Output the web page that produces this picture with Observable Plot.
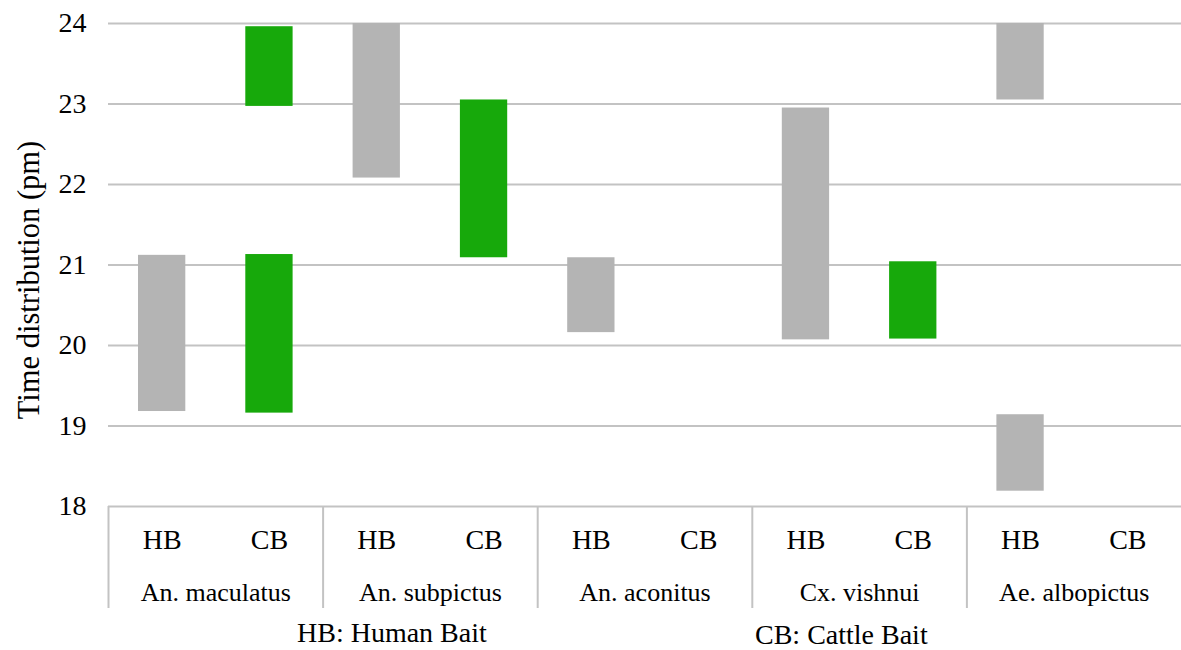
<!DOCTYPE html>
<html><head><meta charset="utf-8">
<script src="https://cdn.jsdelivr.net/npm/d3@7"></script>
<script src="https://cdn.jsdelivr.net/npm/@observablehq/plot@0.6"></script>
<style>
body{margin:0;background:#fff;}
#wrap{position:relative;width:1181px;height:650px;font-family:'Liberation Serif','Times New Roman',Times,'DejaVu Serif',serif;}
#wrap svg, #wrap svg text{font-family:'Liberation Serif','Times New Roman',Times,'DejaVu Serif',serif !important;}
.cap{position:absolute;font-size:28px;line-height:28px;color:#000;white-space:nowrap;}
</style></head><body><div id="wrap"></div>
<script>
const species = ["An. maculatus","An. subpictus","An. aconitus","Cx. vishnui","Ae. albopictus"];
const baits = ["HB","CB"];
const baitNames = ["HB: Human Bait","CB: Cattle Bait"];
const yTicks = [18,19,20,21,22,23,24];
const yLabel = "Time distribution (pm)";
// time intervals (pm), one entry per bar
const barSpecies = ["An. maculatus","An. maculatus","An. maculatus","An. subpictus","An. subpictus","An. aconitus","Cx. vishnui","Cx. vishnui","Ae. albopictus","Ae. albopictus"];
const barBait    = ["HB","CB","CB","HB","CB","HB","HB","CB","HB","HB"];
const barStart   = [19.18,19.16,22.97,22.08,21.09,20.16,20.07,20.08,23.05,18.19];
const barEnd     = [21.12,21.13,23.96,24.00,23.05,21.09,22.95,21.04,24.00,19.14];

const nb = baits.length;
const idx = (s, b) => species.indexOf(s) * nb + baits.indexOf(b);
const bars = barSpecies.map((s, i) => ({s, b: barBait[i], i: idx(s, barBait[i]), y1: barStart[i], y2: barEnd[i]}));
const cells = species.flatMap((s) => baits.map((b) => ({s, b, i: idx(s, b)})));
const groups = species.map((s, k) => ({s, start: k * nb, mid: k * nb + nb / 2}));

const gridColor = "#c3c3c3";
const plot = Plot.plot({
  width: 1181,
  height: 615,
  marginLeft: 108,
  marginRight: 0,
  marginTop: 23,
  marginBottom: 109,
  style: {background: "#fff", color: "#000", overflow: "visible"},
  x: {domain: [0, species.length * nb], axis: null},
  y: {domain: [18, 24], axis: null},
  color: {domain: baits, range: ["#b4b4b4", "#17a90b"]},
  marks: [
    Plot.ruleY(yTicks, {stroke: gridColor, strokeWidth: 2}),
    Plot.axisX({ticks: groups.map(g => g.start), tickSize: 102, tickFormat: () => "", label: null, stroke: gridColor, strokeWidth: 2, strokeOpacity: 1}),
    Plot.rectY(bars, {x1: d => d.i, x2: d => d.i + 1, y1: "y1", y2: "y2", fill: "b", insetLeft: 30, insetRight: 30}),
    Plot.axisY({ticks: yTicks, tickFormat: d => String(d), tickSize: 0, tickPadding: 22, fontSize: 28, label: null}),
    Plot.text(cells, {x: d => d.i + 0.5, text: "b", frameAnchor: "bottom", lineAnchor: "bottom", dy: 42, fontSize: 28, fill: "#000"}),
    Plot.text(groups, {x: "mid", text: "s", frameAnchor: "bottom", lineAnchor: "bottom", dy: 94, fontSize: 26, fill: "#000"}),
    Plot.text([yLabel], {text: d => d, frameAnchor: "left", textAnchor: "middle", rotate: -90, dx: -79, dy: 15, fontSize: 30.5, fill: "#000"})
  ]
});
const wrap = document.getElementById("wrap");
wrap.appendChild(plot);
const c1 = document.createElement("span");
c1.className = "cap"; c1.textContent = baitNames[0];
c1.style.left = "297px"; c1.style.top = "619px";
const c2 = document.createElement("span");
c2.className = "cap"; c2.textContent = baitNames[1];
c2.style.left = "755px"; c2.style.top = "621px";
wrap.appendChild(c1); wrap.appendChild(c2);
</script></body></html>
